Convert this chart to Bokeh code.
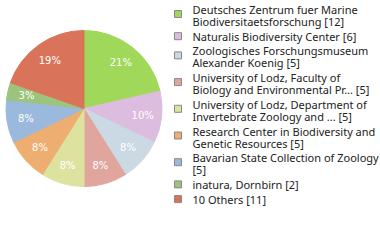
import math
from bokeh.plotting import figure
from bokeh.models import Range1d, ColumnDataSource
from bokeh.core.properties import value
from bokeh.embed import file_html
from bokeh.resources import INLINE

labels = [
    "Deutsches Zentrum fuer Marine\nBiodiversitaetsforschung [12]",
    "Naturalis Biodiversity Center [6]",
    "Zoologisches Forschungsmuseum\nAlexander Koenig [5]",
    "University of Lodz, Faculty of\nBiology and Environmental Pr... [5]",
    "University of Lodz, Department of\nInvertebrate Zoology and ... [5]",
    "Research Center in Biodiversity and\nGenetic Resources [5]",
    "Bavarian State Collection of Zoology\n[5]",
    "inatura, Dornbirn [2]",
    "10 Others [11]",
]
counts = [12, 6, 5, 5, 5, 5, 5, 2, 11]
colors = ["#a0d95a", "#dcbcdf", "#cbd9e5", "#e0a59d", "#dde39f",
          "#eeae71", "#9ab9dc", "#9cc47c", "#d9745a"]

W, H = 380, 240
p = figure(width=W, height=H, output_backend="svg", toolbar_location=None,
           x_range=Range1d(0, W), y_range=Range1d(0, H),
           x_axis_type=None, y_axis_type=None, min_border=0,
           outline_line_color=None, background_fill_color="white")
p.grid.visible = False

cx, cy, r = 83.5, H - 108, 78
total = sum(counts)
starts, ends, lx, ly, pct = [], [], [], [], []
acc = 0
for c in counts:
    a0 = math.pi / 2 - 2 * math.pi * acc / total
    acc += c
    a1 = math.pi / 2 - 2 * math.pi * acc / total
    starts.append(a0)
    ends.append(a1)
    m = (a0 + a1) / 2
    lx.append(cx + 59 * math.cos(m))
    ly.append(cy + 59 * math.sin(m))
    pct.append("%d%%" % int(c * 100 // total))

src = ColumnDataSource(dict(start=starts, end=ends, color=colors))
p.wedge(x=cx, y=cy, radius=r, start_angle="start", end_angle="end",
        direction="clock", fill_color="color", line_color="color", source=src)
p.text(x=lx, y=ly, text=pct, text_color="white", text_font=value("DejaVu Sans"),
       text_font_size="10px", text_align="center", text_baseline="middle")

# legend
tx, tys, texts, sq_y = [], [], [], []
y = 9.0
for lab in labels:
    lines = lab.split("\n")
    first = y
    for ln in lines:
        texts.append(ln)
        tys.append(H - y)
        tx.append(192)
        y += 12
    last = y - 12
    y += 2.7
    mid = (first + last) / 2 - (1.5 if len(lines) > 1 else 0)
    sq_y.append(H - mid)

p.rect(x=[177.5] * len(labels), y=sq_y, width=7, height=7, fill_color=colors,
       line_color="#888888", line_width=1)
p.text(x=tx, y=tys, text=texts, text_color="#222222", text_font=value("Noto Sans"),
       text_font_size="11px", text_align="left", text_baseline="middle")

open("out.html", "w").write(file_html(p, INLINE))
